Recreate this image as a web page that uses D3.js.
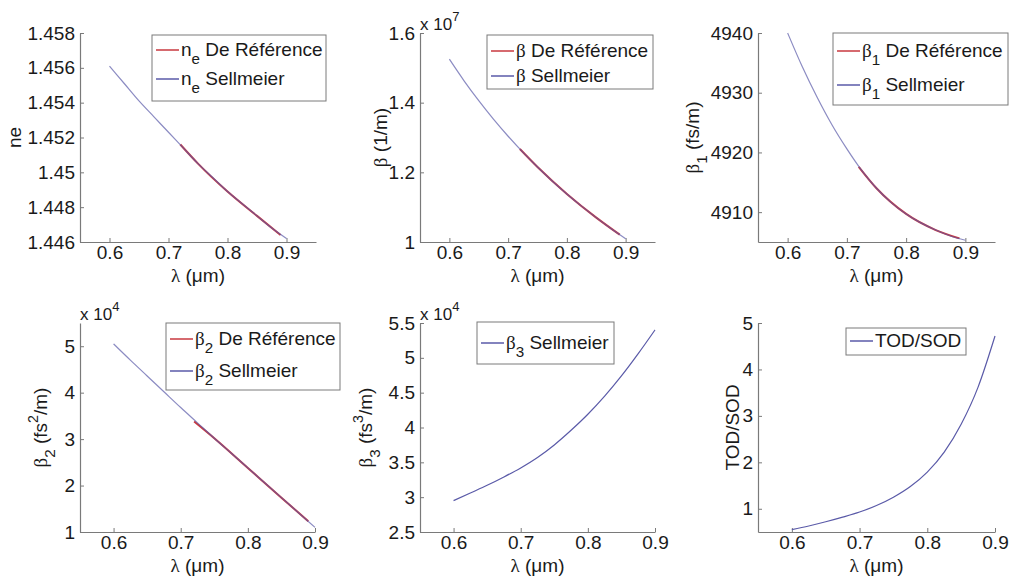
<!DOCTYPE html>
<html><head><meta charset="utf-8">
<script src="https://cdn.jsdelivr.net/npm/d3@7"></script>
<style>
body{margin:0;background:#fff}
svg text{font-family:"Liberation Sans",Arial,sans-serif;fill:#1a1a1a}
</style>
</head><body>
<svg id="c" width="1010" height="579"></svg>
<script>
// ---------- data ----------
const lambda = [0.6,0.625,0.65,0.675,0.7,0.725,0.75,0.775,0.8,0.825,0.85,0.875,0.9];
const neSell    = [1.4561,1.4551,1.4541,1.4532,1.4523,1.4514,1.4505,1.4497,1.4489,1.4482,1.4475,1.4468,1.4462];
const betaSell  = [1.5248,1.4628,1.4057,1.3527,1.3036,1.2578,1.2152,1.1753,1.1380,1.1029,1.0700,1.0389,1.0096]; // x 1e7
const beta1Sell = [4940.0,4934.3,4929.2,4924.6,4920.6,4917.0,4914.0,4911.6,4909.7,4908.2,4907.0,4906.0,4905.3];
const beta2Sell = [5.05,4.70,4.36,4.02,3.68,3.35,3.02,2.70,2.38,2.06,1.74,1.42,1.10]; // x 1e4
const beta3Sell = [2.95,3.06,3.17,3.29,3.42,3.57,3.75,3.96,4.19,4.45,4.74,5.06,5.40]; // x 1e4
const todSod    = [0.55,0.63,0.72,0.82,0.93,1.07,1.25,1.48,1.79,2.22,2.82,3.62,4.72];

const refLambda = [0.72,0.75,0.8,0.85,0.89];
const neRef    = [1.4516,1.4505,1.4489,1.4475,1.4464];
const betaRef  = [1.2668,1.2152,1.1380,1.0700,1.0210];
const beta1Ref = [4917.6,4914.0,4909.7,4907.0,4905.6];
const beta2Ref = [3.38,3.02,2.38,1.74,1.23];

const xTicks = [0.6,0.7,0.8,0.9];
const xTickLabels = ["0.6","0.7","0.8","0.9"];
const neTicks = [1.446,1.448,1.45,1.452,1.454,1.456,1.458];
const neTickLabels = ["1.446","1.448","1.45","1.452","1.454","1.456","1.458"];
const betaTicks = [1,1.2,1.4,1.6];
const betaTickLabels = ["1","1.2","1.4","1.6"];
const beta1Ticks = [4910,4920,4930,4940];
const beta1TickLabels = ["4910","4920","4930","4940"];
const beta2Ticks = [1,2,3,4,5];
const beta2TickLabels = ["1","2","3","4","5"];
const beta3Ticks = [2.5,3,3.5,4,4.5,5,5.5];
const beta3TickLabels = ["2.5","3","3.5","4","4.5","5","5.5"];
const todTicks = [1,2,3,4,5];
const todTickLabels = ["1","2","3","4","5"];

// ---------- styles ----------
const RED = "#c8393f", BLUE = "#5a5aa8", AXIS = "#7a7a7a";
const FS = 19;
const svg = d3.select("#c");

function rich(sel, parts, size){
  let off = 0;
  parts.forEach(p=>{
    const t = sel.append("tspan").text(p.t);
    let target = 0, fsz = size;
    if (p.s === "sub"){ target = size*0.42; fsz = size*0.8; }
    if (p.s === "sup"){ target = -size*0.45; fsz = size*0.75; }
    t.attr("dy", target - off).attr("font-size", fsz);
    if (p.f === "serif") t.style("font-family", '"Liberation Serif","DejaVu Serif",serif');
    off = target;
  });
}

const lamLabel = [{t:"λ",f:"serif"},{t:" (μm)"}];
const subP = (sym, sub, rest) => [{t:sym,f: sym==="β"?"serif":undefined},{t:sub,s:"sub"},{t:rest}];

const panels = [
  {x0:80,x1:316,y0:33,y1:242,xd:[0.55,0.95],yd:[1.446,1.458],yt:neTicks,ytl:neTickLabels,
   sell:neSell,ref:neRef,exp:null,
   ylab:[{t:"ne"}], ylx:21,
   leg:{x:152,y:35,w:174,h:66,rows:[15,44],items:[
     {c:RED,p:subP("n","e"," De Référence")},{c:BLUE,p:subP("n","e"," Sellmeier")}]}},
  {x0:420,x1:655,y0:33,y1:242,xd:[0.55,0.95],yd:[1,1.6],yt:betaTicks,ytl:betaTickLabels,
   sell:betaSell,ref:betaRef,exp:"7",
   ylab:[{t:"β",f:"serif"},{t:" (1/m)"}], ylx:387,
   leg:{x:487,y:35,w:166,h:54,rows:[16,41],items:[
     {c:RED,p:[{t:"β",f:"serif"},{t:" De Référence"}]},{c:BLUE,p:[{t:"β",f:"serif"},{t:" Sellmeier"}]}]}},
  {x0:758,x1:995,y0:33,y1:242,xd:[0.55,0.95],yd:[4905,4940],yt:beta1Ticks,ytl:beta1TickLabels,
   sell:beta1Sell,ref:beta1Ref,exp:null,
   ylab:[{t:"β",f:"serif"},{t:"1",s:"sub"},{t:" (fs/m)"}], ylx:699,
   leg:{x:833,y:33,w:175,h:72,rows:[18,52],items:[
     {c:RED,p:subP("β","1"," De Référence")},{c:BLUE,p:subP("β","1"," Sellmeier")}]}},
  {x0:80,x1:315,y0:323,y1:532,xd:[0.55,0.9],yd:[1,5.5],yt:beta2Ticks,ytl:beta2TickLabels,
   sell:beta2Sell,ref:beta2Ref,exp:"4",
   ylab:[{t:"β",f:"serif"},{t:"2",s:"sub"},{t:" (fs"},{t:"2",s:"sup"},{t:"/m)"}], ylx:47,
   leg:{x:166,y:323,w:174,h:67,rows:[16,48],items:[
     {c:RED,p:subP("β","2"," De Référence")},{c:BLUE,p:subP("β","2"," Sellmeier")}]}},
  {x0:420,x1:655,y0:323,y1:532,xd:[0.55,0.9],yd:[2.5,5.5],yt:beta3Ticks,ytl:beta3TickLabels,
   sell:beta3Sell,ref:null,exp:"4",
   ylab:[{t:"β",f:"serif"},{t:"3",s:"sub"},{t:" (fs"},{t:"3",s:"sup"},{t:"/m)"}], ylx:372,
   leg:{x:477,y:322,w:137,h:42,rows:[21],items:[
     {c:BLUE,p:subP("β","3"," Sellmeier")}]}},
  {x0:758,x1:995,y0:323,y1:532,xd:[0.55,0.9],yd:[0.5,5],yt:todTicks,ytl:todTickLabels,
   sell:todSod,ref:null,exp:null,
   ylab:[{t:"TOD/SOD"}], ylx:739,
   leg:{x:846,y:328,w:120,h:27,rows:[13],items:[
     {c:BLUE,p:[{t:"TOD/SOD"}]}]}}
];

panels.forEach(P=>{
  const x = d3.scaleLinear().domain(P.xd).range([P.x0,P.x1]);
  const y = d3.scaleLinear().domain(P.yd).range([P.y1,P.y0]);
  const g = svg.append("g");

  const xa = d3.axisBottom(x).tickValues(xTicks).tickFormat((d,i)=>xTickLabels[i])
    .tickSizeInner(-4).tickSizeOuter(0).tickPadding(3);
  const ya = d3.axisLeft(y).tickValues(P.yt).tickFormat((d,i)=>P.ytl[i])
    .tickSizeInner(-4).tickSizeOuter(0).tickPadding(5);
  const gx = g.append("g").attr("transform",`translate(0,${P.y1})`).call(xa);
  const gy = g.append("g").attr("transform",`translate(${P.x0},0)`).call(ya);
  [gx,gy].forEach(a=>{
    a.select(".domain").attr("stroke",AXIS).attr("stroke-width",1.2);
    a.selectAll(".tick line").attr("stroke",AXIS);
    a.selectAll(".tick text").attr("font-size",FS).attr("fill","#1a1a1a")
      .style("font-family",'"Liberation Sans",Arial,sans-serif');
  });

  const line = d3.line().x(d=>x(d[0])).y(d=>y(d[1])).curve(d3.curveMonotoneX);
  if (P.ref){
    g.append("path").datum(refLambda.map((l,i)=>[l,P.ref[i]]))
      .attr("d",line).attr("fill","none").attr("stroke",RED).attr("stroke-width",2);
  }
  g.append("path").datum(lambda.map((l,i)=>[l,P.sell[i]]))
    .attr("d",line).attr("fill","none").attr("stroke",BLUE).attr("stroke-width",1.2)
    .attr("stroke-opacity",P.ref?0.7:1);

  // exponent
  if (P.exp){
    const t = g.append("text").attr("x",P.x0).attr("y",P.y0-3).attr("font-size",17);
    t.append("tspan").text("x 10");
    t.append("tspan").text(P.exp).attr("dy",-9).attr("font-size",13);
  }

  // x label
  const xl = g.append("text").attr("x",(P.x0+P.x1)/2).attr("y",P.y1+40)
    .attr("text-anchor","middle").attr("font-size",FS);
  rich(xl, lamLabel, FS);

  // y label
  const yl = g.append("text").attr("text-anchor","middle").attr("font-size",FS)
    .attr("transform",`translate(${P.ylx},${(P.y0+P.y1)/2}) rotate(-90)`);
  rich(yl, P.ylab, FS);

  // legend
  const L = P.leg;
  const lg = g.append("g");
  lg.append("rect").attr("x",L.x).attr("y",L.y).attr("width",L.w).attr("height",L.h)
    .attr("fill","#fff").attr("stroke",AXIS).attr("stroke-width",1);
  L.items.forEach((it,i)=>{
    const ry = L.y + L.rows[i];
    lg.append("line").attr("x1",L.x+4).attr("x2",L.x+27).attr("y1",ry).attr("y2",ry)
      .attr("stroke",it.c).attr("stroke-width",1.5);
    const t = lg.append("text").attr("x",L.x+29).attr("y",ry+6).attr("font-size",FS);
    rich(t, it.p, FS);
  });
});
</script>
</body></html>
